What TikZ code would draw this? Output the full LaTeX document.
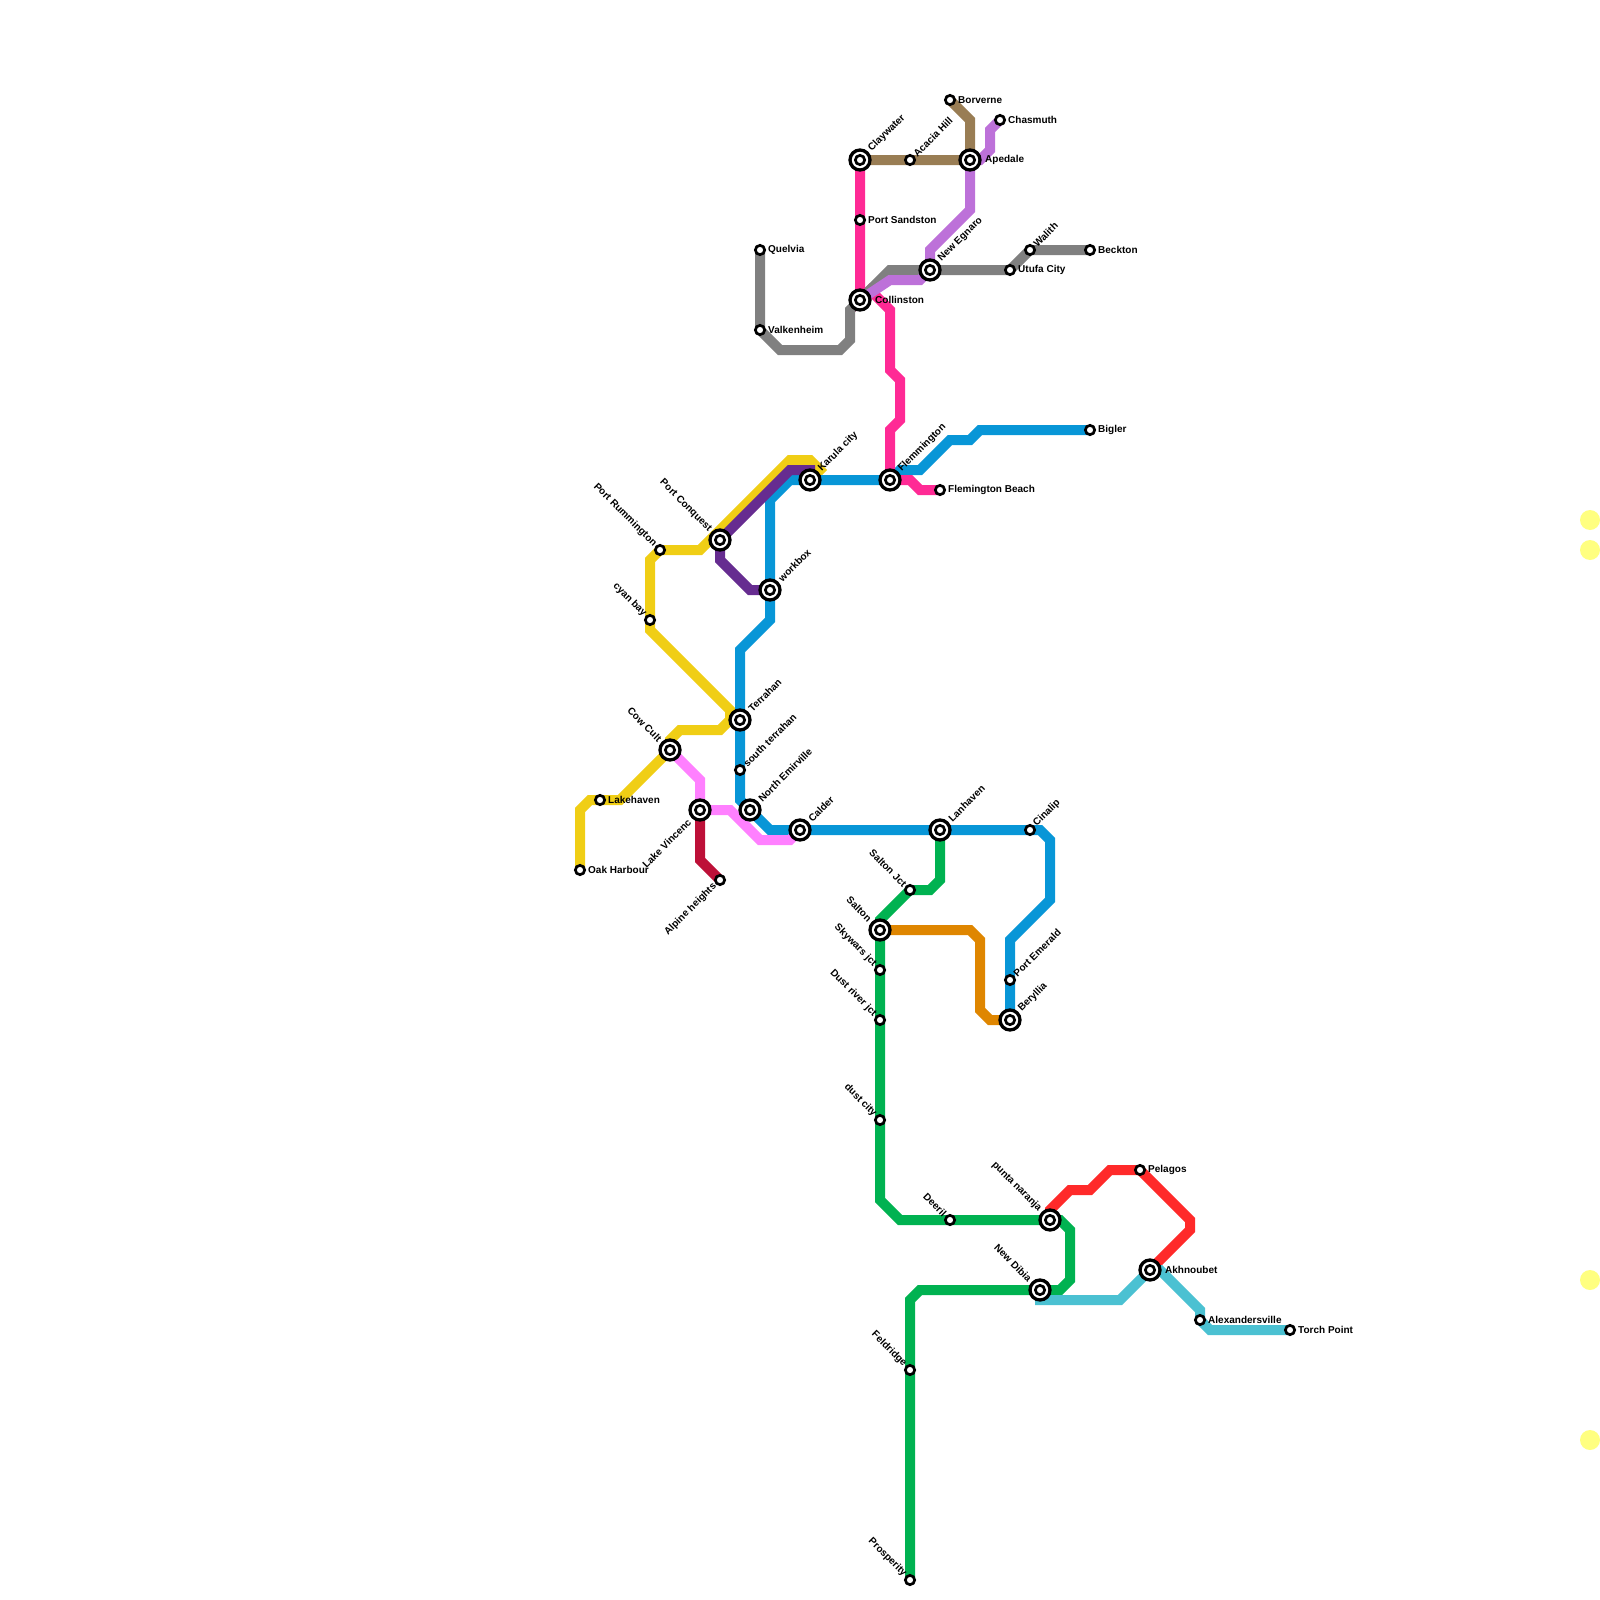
\documentclass[tikz,border=0pt]{standalone}
\usepackage{fontspec}
\setmainfont{Liberation Sans}
\usetikzlibrary{positioning, backgrounds}
\definecolor{linegold}{HTML}{F0CE15}
\definecolor{lineblue}{HTML}{0896D7}
\definecolor{lineplum}{HTML}{662C90}
\definecolor{linerose}{HTML}{FF2A95}
\definecolor{linepink}{HTML}{FF80FF}
\definecolor{linewine}{HTML}{BD1038}
\definecolor{linegray}{HTML}{808080}
\definecolor{linetan}{HTML}{997D54}
\definecolor{linelilac}{HTML}{BD71D9}
\definecolor{lineamber}{HTML}{DF8600}
\definecolor{linegreen}{HTML}{00B251}
\definecolor{linered}{HTML}{FF2A2A}
\definecolor{lineteal}{HTML}{4BC1D2}
\definecolor{dotyellow}{HTML}{FFFF80}
\tikzset{
  metro/.style={draw=#1, line width=10pt, line join=miter, line cap=butt},
  stopnode/.style={circle, draw=black, fill=white, line width=2.7pt, minimum size=9.3pt, inner sep=0pt, outer sep=0pt},
  hubnode/.style={circle, draw=black, fill=white, line width=3.3pt, minimum size=20pt, inner sep=0pt, outer sep=0pt,
    path picture={\draw[black, line width=2.7pt] (path picture bounding box.center) circle (4.65pt);}},
  dotnode/.style={circle, fill=dotyellow, minimum size=20pt, inner sep=0pt, outer sep=0pt},
  tagE/.style={anchor=west, inner sep=0pt, font=\fontsize{10}{12}\selectfont\bfseries, xshift=#1, yshift=0.3pt},
  tagNE/.style={anchor=west, inner sep=0pt, font=\fontsize{10}{12}\selectfont\bfseries, rotate=45, xshift=#1},
  tagNW/.style={anchor=east, inner sep=0pt, font=\fontsize{10}{12}\selectfont\bfseries, rotate=-45, xshift=-#1},
  tagSW/.style={anchor=east, inner sep=0pt, font=\fontsize{10}{12}\selectfont\bfseries, rotate=45, xshift=-#1},
}
\begin{document}
\begin{tikzpicture}[x=1pt, y=-1pt]
\useasboundingbox (0,0) rectangle (1600,1600);
% north end
\node[stopnode] (borverne) at (950,100) {};
\node[tagE=8] (borverneL) at (borverne) {Borverne};
\node[stopnode] (chasmuth) at (1000,120) {};
\node[tagE=8] (chasmuthL) at (chasmuth) {Chasmuth};
\node[hubnode] (claywater) at (860,160) {};
\node[tagNE=14] (claywaterL) at (claywater) {Claywater};
\node[stopnode] (acacia) at (910,160) {};
\node[tagNE=7] (acaciaL) at (acacia) {Acacia Hill};
\node[hubnode] (apedale) at (970,160) {};
\node[tagE=15] (apedaleL) at (apedale) {Apedale};
\node[stopnode] (sandston) at (860,220) {};
\node[tagE=8] (sandstonL) at (sandston) {Port Sandston};
\node[stopnode] (quelvia) at (760,250) {};
\node[tagE=8] (quelviaL) at (quelvia) {Quelvia};
\node[stopnode] (valkenheim) at (760,330) {};
\node[tagE=8] (valkenheimL) at (valkenheim) {Valkenheim};
\node[hubnode] (collinston) at (860,300) {};
\node[tagE=15] (collinstonL) at (collinston) {Collinston};
\node[hubnode] (egnaro) at (930,270) {};
\node[tagNE=14] (egnaroL) at (egnaro) {New Egnaro};
\node[stopnode] (utufa) at (1010,270) {};
\node[tagE=8] (utufaL) at (utufa) {Utufa City};
\node[stopnode] (walith) at (1030,250) {};
\node[tagNE=7] (walithL) at (walith) {Walith};
\node[stopnode] (beckton) at (1090,250) {};
\node[tagE=8] (becktonL) at (beckton) {Beckton};
% middle
\node[stopnode] (bigler) at (1090,430) {};
\node[tagE=8] (biglerL) at (bigler) {Bigler};
\node[hubnode] (flemmington) at (890,480) {};
\node[tagNE=14] (flemmingtonL) at (flemmington) {Flemmington};
\node[stopnode] (beach) at (940,490) {};
\node[tagE=8] (beachL) at (beach) {Flemington Beach};
\node[hubnode] (karula) at (810,480) {};
\node[tagNE=14] (karulaL) at (karula) {Karula city};
\node[hubnode] (conquest) at (720,540) {};
\node[tagNW=14] (conquestL) at (conquest) {Port Conquest};
\node[stopnode] (rummington) at (660,550) {};
\node[tagNW=7] (rummingtonL) at (rummington) {Port Rummington};
\node[stopnode] (cyanbay) at (650,620) {};
\node[tagNW=7] (cyanbayL) at (cyanbay) {cyan bay};
\node[hubnode] (workbox) at (770,590) {};
\node[tagNE=14] (workboxL) at (workbox) {workbox};
\node[hubnode] (terrahan) at (740,720) {};
\node[tagNE=14] (terrahanL) at (terrahan) {Terrahan};
\node[hubnode] (cowcult) at (670,750) {};
\node[tagNW=14] (cowcultL) at (cowcult) {Cow Cult};
\node[stopnode] (southterrahan) at (740,770) {};
\node[tagNE=7] (southterrahanL) at (southterrahan) {south terrahan};
\node[hubnode] (emirville) at (750,810) {};
\node[tagNE=14] (emirvilleL) at (emirville) {North Emirville};
\node[hubnode] (calder) at (800,830) {};
\node[tagNE=14] (calderL) at (calder) {Calder};
\node[hubnode] (vincenc) at (700,810) {};
\node[tagSW=15] (vincencL) at (vincenc) {Lake Vincenc};
\node[stopnode] (lakehaven) at (600,800) {};
\node[tagE=8] (lakehavenL) at (lakehaven) {Lakehaven};
\node[stopnode] (oakharbour) at (580,870) {};
\node[tagE=8] (oakharbourL) at (oakharbour) {Oak Harbour};
\node[stopnode] (alpine) at (720,880) {};
\node[tagSW=7] (alpineL) at (alpine) {Alpine heights};
\node[hubnode] (lanhaven) at (940,830) {};
\node[tagNE=14] (lanhavenL) at (lanhaven) {Lanhaven};
\node[stopnode] (cinalip) at (1030,830) {};
\node[tagNE=7] (cinalipL) at (cinalip) {Cinalip};
\node[stopnode] (saltonjct) at (910,890) {};
\node[tagNW=7] (saltonjctL) at (saltonjct) {Salton Jct};
\node[hubnode] (salton) at (880,930) {};
\node[tagNW=14] (saltonL) at (salton) {Salton};
\node[stopnode] (skywars) at (880,970) {};
\node[tagNW=7] (skywarsL) at (skywars) {Skywars jct};
\node[stopnode] (dustriver) at (880,1020) {};
\node[tagNW=7] (dustriverL) at (dustriver) {Dust river jct};
\node[stopnode] (dustcity) at (880,1120) {};
\node[tagNW=7] (dustcityL) at (dustcity) {dust city};
\node[stopnode] (emerald) at (1010,980) {};
\node[tagNE=7] (emeraldL) at (emerald) {Port Emerald};
\node[hubnode] (beryllia) at (1010,1020) {};
\node[tagNE=14] (berylliaL) at (beryllia) {Beryllia};
% south end
\node[hubnode] (naranja) at (1050,1220) {};
\node[tagNW=14] (naranjaL) at (naranja) {punta naranja};
\node[stopnode] (deeril) at (950,1220) {};
\node[tagNW=7] (deerilL) at (deeril) {Deeril};
\node[hubnode] (dibia) at (1040,1290) {};
\node[tagNW=14] (dibiaL) at (dibia) {New Dibia};
\node[stopnode] (feldridge) at (910,1370) {};
\node[tagNW=7] (feldridgeL) at (feldridge) {Feldridge};
\node[stopnode] (prosperity) at (910,1580) {};
\node[tagNW=7] (prosperityL) at (prosperity) {Prosperity};
\node[stopnode] (pelagos) at (1140,1170) {};
\node[tagE=8] (pelagosL) at (pelagos) {Pelagos};
\node[hubnode] (akhnoubet) at (1150,1270) {};
\node[tagE=15] (akhnoubetL) at (akhnoubet) {Akhnoubet};
\node[stopnode] (alexanders) at (1200,1320) {};
\node[tagE=8] (alexandersL) at (alexanders) {Alexandersville};
\node[stopnode] (torch) at (1290,1330) {};
\node[tagE=8] (torchL) at (torch) {Torch Point};
% yellow dots on the right
\node[dotnode] (dota) at (1590,520) {};
\node[dotnode] (dotb) at (1590,550) {};
\node[dotnode] (dotc) at (1590,1280) {};
\node[dotnode] (dotd) at (1590,1440) {};
\begin{pgfonlayer}{background}
% lines
\draw[metro=linegold] (oakharbour.center) -- (580,810) -- (590,800) -- (lakehaven.center) -- (620,800) -- (cowcult.center) -- (670,740) -- (680,730) -- (720,730) -- (730,720) -- (730,710) -- (650,630) -- (cyanbay.center) -- (650,560) -- (rummington.center) -- (700,550) -- (710,540) -- (790,460) -- (810,460) -- (820,470) -- (karula.center);
\draw[metro=lineblue] (karula.center) -- (790,480) -- (770,500) -- (workbox.center) -- (770,620) -- (740,650) -- (terrahan.center) -- (southterrahan.center) -- (740,800) -- (emirville.center) -- (770,830) -- (calder.center) -- (lanhaven.center) -- (cinalip.center) -- (1040,830) -- (1050,840) -- (1050,900) -- (1010,940) -- (emerald.center) -- (beryllia.center);
\draw[metro=lineblue] (karula.center) -- (flemmington.center) -- (900,470) -- (920,470) -- (950,440) -- (970,440) -- (980,430) -- (bigler.center);
\draw[metro=lineplum] (workbox.center) -- (750,590) -- (720,560) -- (conquest.center) -- (790,470) -- (810,470) -- (karula.center);
\draw[metro=linerose] (claywater.center) -- (sandston.center) -- (collinston.center) -- (870,290) -- (890,310) -- (890,370) -- (900,380) -- (900,420) -- (890,430) -- (flemmington.center) -- (910,480) -- (920,490) -- (beach.center);
\draw[metro=linepink] (cowcult.center) -- (700,780) -- (vincenc.center) -- (730,810) -- (760,840) -- (790,840) -- (calder.center);
\draw[metro=linewine] (vincenc.center) -- (700,860) -- (alpine.center);
\draw[metro=linegray] (quelvia.center) -- (valkenheim.center) -- (780,350) -- (840,350) -- (850,340) -- (850,310) -- (collinston.center) -- (890,270) -- (egnaro.center) -- (utufa.center) -- (walith.center) -- (beckton.center);
\draw[metro=linelilac] (collinston.center) -- (890,280) -- (920,280) -- (egnaro.center) -- (930,250) -- (970,210) -- (apedale.center) -- (980,160) -- (990,150) -- (990,130) -- (chasmuth.center);
\draw[metro=linetan] (claywater.center) -- (acacia.center) -- (apedale.center) -- (970,120) -- (borverne.center);
\draw[metro=lineamber] (salton.center) -- (970,930) -- (980,940) -- (980,1010) -- (990,1020) -- (beryllia.center);
\draw[metro=linegreen] (lanhaven.center) -- (940,880) -- (930,890) -- (saltonjct.center) -- (880,920) -- (salton.center) -- (skywars.center) -- (dustriver.center) -- (dustcity.center) -- (880,1200) -- (900,1220) -- (deeril.center) -- (naranja.center) -- (1060,1220) -- (1070,1230) -- (1070,1280) -- (1060,1290) -- (dibia.center) -- (920,1290) -- (910,1300) -- (feldridge.center) -- (prosperity.center);
\draw[metro=linered] (naranja.center) -- (1050,1210) -- (1070,1190) -- (1090,1190) -- (1110,1170) -- (pelagos.center) -- (1190,1220) -- (1190,1230) -- (akhnoubet.center);
\draw[metro=lineteal] (dibia.center) -- (1040,1300) -- (1120,1300) -- (akhnoubet.center) -- (1160,1270) -- (1200,1310) -- (alexanders.center) -- (1210,1330) -- (torch.center);
\end{pgfonlayer}
\end{tikzpicture}
\end{document}
